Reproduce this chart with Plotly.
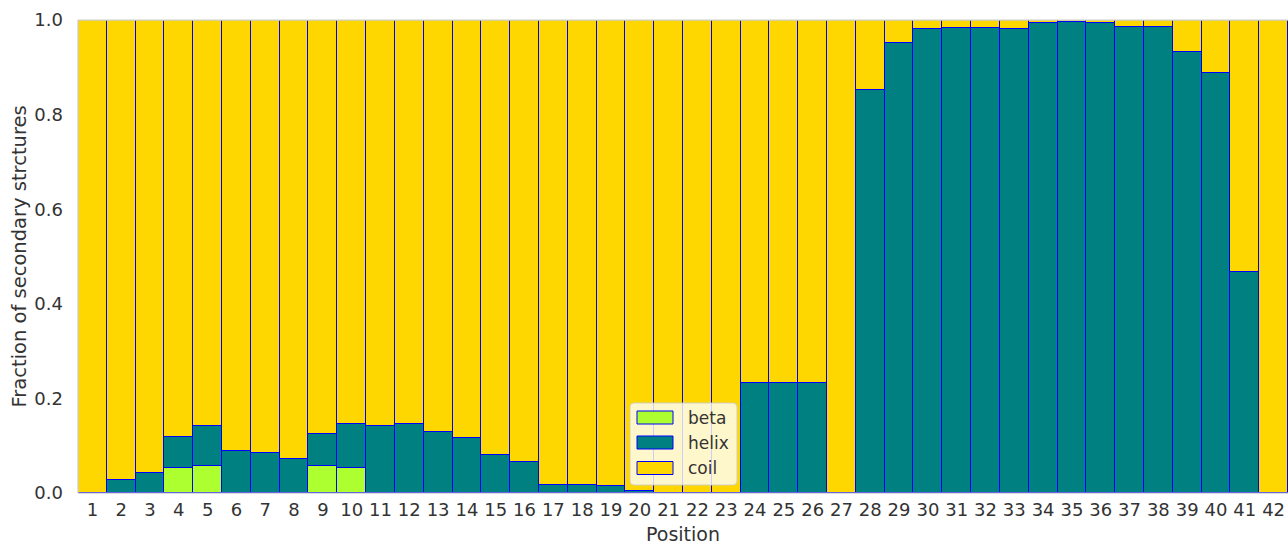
import plotly.graph_objects as go

# Secondary-structure fractions per residue position
positions = list(range(1, 43))

beta = [0.0, 0.0, 0.0, 0.053, 0.058, 0.0, 0.0, 0.0, 0.058, 0.053,
        0.0, 0.0, 0.0, 0.0, 0.0, 0.0, 0.0, 0.0, 0.0, 0.0,
        0.0, 0.0, 0.0, 0.0, 0.0, 0.0, 0.0, 0.0, 0.0, 0.0,
        0.0, 0.0, 0.0, 0.0, 0.0, 0.0, 0.0, 0.0, 0.0, 0.0,
        0.0, 0.0]

helix = [0.0, 0.027, 0.042, 0.065, 0.083, 0.088, 0.084, 0.072, 0.067, 0.093,
         0.141, 0.146, 0.129, 0.116, 0.081, 0.066, 0.016, 0.016, 0.014, 0.004,
         0.0, 0.0, 0.0, 0.233, 0.233, 0.233, 0.0, 0.851, 0.951, 0.982,
         0.984, 0.984, 0.982, 0.993, 0.996, 0.994, 0.986, 0.986, 0.933, 0.889,
         0.468, 0.0]

coil = [1.0, 0.973, 0.958, 0.882, 0.859, 0.912, 0.916, 0.928, 0.875, 0.854,
        0.859, 0.854, 0.871, 0.884, 0.919, 0.934, 0.984, 0.984, 0.986, 0.996,
        1.0, 1.0, 1.0, 0.767, 0.767, 0.767, 1.0, 0.149, 0.049, 0.018,
        0.016, 0.016, 0.018, 0.007, 0.004, 0.006, 0.014, 0.014, 0.067, 0.111,
        0.532, 1.0]

series = [("beta", beta, "#ADFF2F"), ("helix", helix, "#008080"), ("coil", coil, "#FFD700")]
y_ticks = [0.0, 0.2, 0.4, 0.6, 0.8, 1.0]
x_title = "Position"
y_title = "Fraction of secondary strctures"

W, H = 1288, 544
ML, MR, MT, MB = 78, 0, 20, 51
PW, PH = W - ML - MR, H - MT - MB
TEXT = "#333333"
FONT = "DejaVu Sans"
EDGE = "#0000FF"
SPINE = "#cccccc"

fig = go.Figure()
for name, vals, color in series:
    # empty segments are skipped so no outline is drawn for them
    fig.add_trace(go.Bar(
        x=positions, y=[v if v > 0 else None for v in vals], name=name,
        marker=dict(color=color, line=dict(color=EDGE, width=1)),
        showlegend=False,
    ))


def px_x(px):
    return (px - ML) / PW


def px_y(py):
    return (H - MB - py) / PH


# Frame lines drawn over the bars (left, bottom, top)
shapes = [
    dict(type="line", xref="paper", yref="paper", x0=0, x1=0, y0=0, y1=1,
         line=dict(color=SPINE, width=1.25)),
    dict(type="line", xref="paper", yref="paper", x0=0, x1=1, y0=0, y1=0,
         line=dict(color=SPINE, width=1.25)),
    dict(type="line", xref="paper", yref="paper", x0=0, x1=1, y0=1, y1=1,
         line=dict(color=SPINE, width=1.25)),
]

# Legend box drawn as shapes (wide patches with blue edges)
bx0, bx1, by0, by1, r = 630, 737, 403, 485, 4
path = (f"M {px_x(bx0 + r)} {px_y(by0)} L {px_x(bx1 - r)} {px_y(by0)} "
        f"Q {px_x(bx1)} {px_y(by0)} {px_x(bx1)} {px_y(by0 + r)} "
        f"L {px_x(bx1)} {px_y(by1 - r)} Q {px_x(bx1)} {px_y(by1)} {px_x(bx1 - r)} {px_y(by1)} "
        f"L {px_x(bx0 + r)} {px_y(by1)} Q {px_x(bx0)} {px_y(by1)} {px_x(bx0)} {px_y(by1 - r)} "
        f"L {px_x(bx0)} {px_y(by0 + r)} Q {px_x(bx0)} {px_y(by0)} {px_x(bx0 + r)} {px_y(by0)} Z")
shapes.append(dict(type="path", path=path, xref="paper", yref="paper",
                   fillcolor="rgba(255,255,255,0.8)", line=dict(color="rgba(204,204,204,0.9)", width=1)))
annotations = []
row_centers = [417.5, 442.5, 468]
for (name, _, color), cy in zip(series, row_centers):
    shapes.append(dict(type="rect", xref="paper", yref="paper",
                       x0=px_x(637), x1=px_x(673), y0=px_y(cy + 6.5), y1=px_y(cy - 6.5),
                       fillcolor=color, line=dict(color=EDGE, width=1)))
    annotations.append(dict(text=name, xref="paper", yref="paper",
                            x=px_x(686), y=px_y(cy), xanchor="left", yanchor="middle",
                            showarrow=False, font=dict(family=FONT, size=17, color=TEXT)))

# Axis titles placed as free text in the margins
annotations.append(dict(text=x_title, xref="paper", yref="paper",
                        x=0.5, y=px_y(533.5), xanchor="center", yanchor="middle",
                        showarrow=False, font=dict(family=FONT, size=19, color=TEXT)))
annotations.append(dict(text=y_title, xref="paper", yref="paper", textangle=-90,
                        x=px_x(19), y=0.5, xanchor="center", yanchor="middle",
                        showarrow=False, font=dict(family=FONT, size=19.5, color=TEXT)))

fig.update_layout(
    width=W, height=H, autosize=False,
    margin=dict(l=ML, r=MR, t=MT, b=MB, pad=0),
    barmode="stack", bargap=0,
    plot_bgcolor="white", paper_bgcolor="white",
    font=dict(family=FONT, size=18, color=TEXT),
    shapes=shapes, annotations=annotations,
    xaxis=dict(
        range=[0.5, 42.5], tickmode="array", tickvals=positions,
        ticktext=[str(p) for p in positions],
        showgrid=False, zeroline=False, showline=False,
        ticks="", ticklabelstandoff=4,
        tickfont=dict(family=FONT, size=18, color=TEXT),
        automargin=False,
    ),
    yaxis=dict(
        range=[0, 1], tickmode="array", tickvals=y_ticks,
        ticktext=[f"{v:.1f}" for v in y_ticks],
        showgrid=False, zeroline=False, showline=False,
        ticks="", ticklabelstandoff=14,
        tickfont=dict(family=FONT, size=18, color=TEXT),
        automargin=False,
    ),
)

fig.write_html("out.html")
